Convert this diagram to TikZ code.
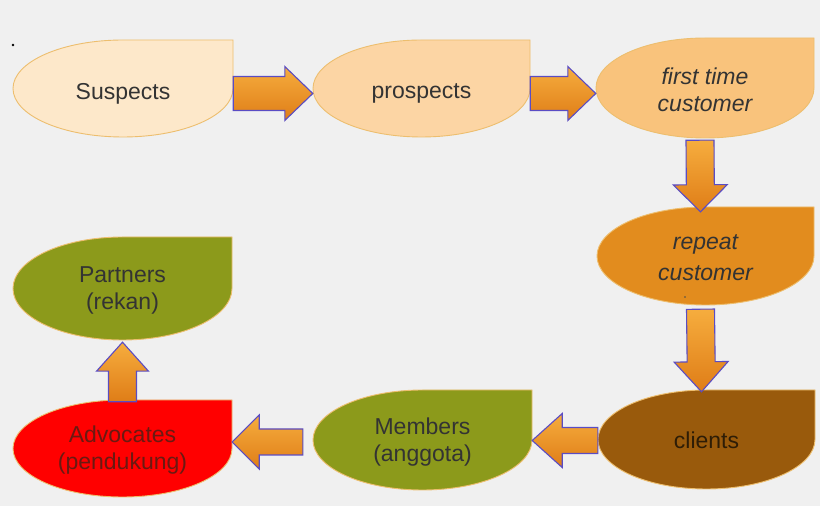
\documentclass[tikz,border=0pt]{standalone}
\usepackage{fontspec}
\setmainfont{Liberation Sans}
\usetikzlibrary{calc}
\definecolor{bg}{HTML}{F0F0F0}
\definecolor{cSus}{HTML}{FDE8CA}
\definecolor{cPro}{HTML}{FCD5A4}
\definecolor{cFir}{HTML}{F9C37C}
\definecolor{cRep}{HTML}{E28C1E}
\definecolor{cCli}{HTML}{995A0C}
\definecolor{cOli}{HTML}{8C9A1B}
\definecolor{cAdv}{HTML}{FF0000}
\definecolor{tdedge}{HTML}{EDBE6E}
\definecolor{arrtop}{HTML}{F6AD3E}
\definecolor{arrbot}{HTML}{DF7D17}
\definecolor{arredge}{HTML}{5A4CC4}
\definecolor{txt}{HTML}{333333}
\definecolor{txtadv}{HTML}{6A1A12}
\definecolor{txtcli}{HTML}{2E1D06}
\tikzset{
  tdborder/.style={draw=tdedge, line width=0.9pt},
  tdtext/.style={inner sep=0pt, align=center, text=txt,
    font=\fontsize{23}{27}\selectfont},
  blockarr/.style={draw=arredge, line width=1.1pt, line join=miter,
    top color=arrtop, bottom color=arrbot}
}
\newcommand\tdrop[8]{% name, x1, y1, x2, y2, fill, extra style, text
  \pgfmathsetmacro\tdcx{(#2+#4)/2}%
  \pgfmathsetmacro\tdcy{(#3+#5)/2}%
  \pgfmathsetmacro\tdrx{(#4-#2)/2}%
  \pgfmathsetmacro\tdry{(#5-#3)/2}%
  \draw[tdborder, fill=#6] (#4pt,#5pt) -- (\tdcx pt,#5pt)
     arc[start angle=90, end angle=360, x radius=\tdrx pt, y radius=\tdry pt] -- cycle;
  \node[tdtext, minimum width=2*\tdrx pt, minimum height=2*\tdry pt, #7]
     (#1) at (\tdcx pt,\tdcy pt) {#8};
}
\newcommand\barrow[5]{% from, to, shaft half, head half, head length
  \path (#1) coordinate (bas) (#2) coordinate (bae);
  \path ($(bae)!#5pt!(bas)$) coordinate (bah);
  \draw[blockarr] ($(bas)!#3pt!90:(bae)$) -- ($(bah)!#3pt!90:(bae)$)
     -- ($(bah)!#4pt!90:(bae)$) -- (bae) -- ($(bah)!#4pt!-90:(bae)$)
     -- ($(bah)!#3pt!-90:(bae)$) -- ($(bas)!#3pt!-90:(bae)$) -- cycle;
}
\begin{document}
\begin{tikzpicture}[x=1pt,y=1pt]
\fill[bg] (0,0) rectangle (820,506);
\useasboundingbox (0,0) rectangle (820,506);
\fill[black] (13,461) circle (1.3pt);
% shapes
\tdrop{sus}{13}{369}{233}{466}{cSus}{yshift=-5pt}{Suspects}
\tdrop{pro}{313}{369}{530}{466}{cPro}{yshift=-5pt}{prospects}
\tdrop{fir}{596}{368}{814}{468}{cFir}{yshift=-2pt}{\itshape first time\\\itshape customer}
\tdrop{rep}{597}{201}{814}{299}{cRep}{yshift=-2pt}{\itshape repeat\\[4pt]\itshape customer}
\tdrop{cli}{598}{17}{815}{116}{cCli}{yshift=-1pt, text=txtcli}{clients}
\tdrop{mem}{313}{16}{532}{116}{cOli}{yshift=-2pt}{Members\\(anggota)}
\tdrop{adv}{13}{9}{232}{106}{cAdv}{yshift=-2pt, text=txtadv}{Advocates\\(pendukung)}
\tdrop{par}{13}{166}{232}{269}{cOli}{yshift=-2pt}{Partners\\(rekan)}
\fill[black!70] (685,209) circle (0.9pt);
% arrows
\barrow{sus.east}{pro.west}{17}{27}{28}
\barrow{pro.east}{fir.west |- pro.east}{17}{27}{28}
\barrow{$(fir.south)+(-5,0)$}{$(rep.north)+(-5,-3)$}{14}{27}{27}
\barrow{$(rep.south)+(-5,-2)$}{$(cli.north)+(-5,-1)$}{14}{27}{30}
\barrow{cli.west}{mem.east |- cli.west}{13}{27}{30}
\barrow{$(mem.west)+(-10,0)$}{adv.east |- mem.west}{13}{27}{27}
\barrow{adv.north}{par.south}{14}{26}{29}
\end{tikzpicture}
\end{document}
